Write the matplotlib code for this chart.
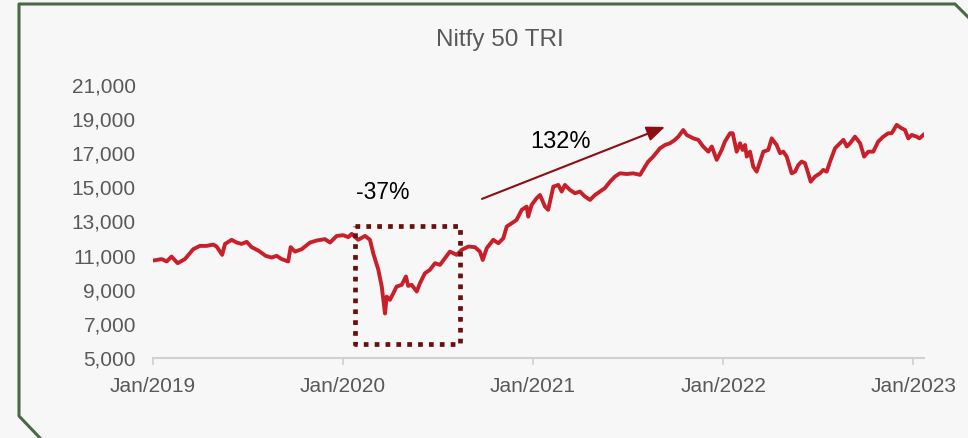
import numpy as np
import matplotlib.pyplot as plt
from matplotlib.lines import Line2D

# Nifty 50 TRI (x in years since Jan 2019)
years = [0.000, 0.048, 0.074, 0.100, 0.132, 0.170, 0.214, 0.249, 0.284, 0.319,
         0.337, 0.366, 0.381, 0.416, 0.442, 0.468, 0.495, 0.521, 0.556, 0.595,
         0.626, 0.652, 0.679, 0.713, 0.726, 0.749, 0.784, 0.828, 0.863, 0.906,
         0.933, 0.968, 1.003, 1.029, 1.047, 1.081, 1.117, 1.143, 1.160, 1.187,
         1.205, 1.222, 1.231, 1.248, 1.266, 1.283, 1.310, 1.332, 1.344, 1.362,
         1.389, 1.406, 1.432, 1.458, 1.485, 1.511, 1.537, 1.563, 1.599, 1.625,
         1.660, 1.695, 1.721, 1.736, 1.757, 1.791, 1.818, 1.844, 1.862, 1.888,
         1.914, 1.941, 1.967, 1.975, 1.993, 2.019, 2.037, 2.063, 2.080, 2.107,
         2.133, 2.151, 2.168, 2.194, 2.221, 2.247, 2.273, 2.300, 2.326, 2.352,
         2.378, 2.405, 2.431, 2.457, 2.493, 2.527, 2.563, 2.589, 2.606, 2.632,
         2.668, 2.694, 2.720, 2.746, 2.764, 2.790, 2.808, 2.843, 2.869, 2.895,
         2.922, 2.940, 2.966, 2.992, 3.009, 3.036, 3.050, 3.071, 3.089, 3.102,
         3.115, 3.124, 3.141, 3.158, 3.176, 3.194, 3.211, 3.237, 3.255, 3.281,
         3.299, 3.316, 3.334, 3.360, 3.378, 3.395, 3.413, 3.430, 3.447, 3.460,
         3.483, 3.509, 3.526, 3.544, 3.562, 3.588, 3.614, 3.632, 3.650, 3.667,
         3.693, 3.720, 3.741, 3.763, 3.789, 3.815, 3.842, 3.868, 3.886, 3.912,
         3.938, 3.956, 3.973, 3.991, 4.017, 4.032, 4.052]
tri = [10700, 10790, 10650, 10940, 10550, 10790, 11370, 11565, 11565, 11640,
       11525, 11040, 11680, 11920, 11760, 11680, 11800, 11490, 11290, 10980,
       10880, 10980, 10790, 10650, 11490, 11230, 11370, 11760, 11880, 11960,
       11760, 12150, 12190, 12075, 12270, 11920, 12150, 11920, 11140, 10160,
       9180, 7600, 8590, 8400, 8790, 9180, 9280, 9770, 9220, 9280,
       8890, 9380, 9960, 10160, 10550, 10450, 10840, 11230, 11040, 11330,
       11525, 11490, 11230, 10740, 11430, 11920, 11720, 12010, 12700, 12890,
       13090, 13680, 13870, 13280, 13970, 14360, 14550, 13870, 13680, 15040,
       15140, 14750, 15140, 14850, 14650, 14750, 14460, 14260, 14550, 14750,
       14950, 15330, 15630, 15820, 15780, 15820, 15730, 16210, 16510, 16800,
       17290, 17480, 17580, 17780, 17970, 18360, 18070, 17870, 17780, 17390,
       17090, 17390, 16610, 17190, 17680, 18170, 18170, 17090, 17580, 17190,
       17480, 16800, 17090, 16210, 15920, 16510, 17090, 17190, 17870, 17480,
       17000, 17090, 16800, 15820, 15920, 16310, 16510, 16410, 15820, 15330,
       15630, 15820, 16020, 15920, 16510, 17290, 17580, 17780, 17390, 17580,
       17970, 17580, 16800, 17090, 17090, 17680, 17970, 18170, 18170, 18660,
       18460, 18360, 17870, 18070, 17970, 17870, 18070]

yticks = [5000, 7000, 9000, 11000, 13000, 15000, 17000, 19000, 21000]
xticks = [0, 1, 2, 3, 4]
xlabels = ['Jan/2019', 'Jan/2020', 'Jan/2021', 'Jan/2022', 'Jan/2023']

grey = '#595959'
plt.rcParams['font.family'] = ['Liberation Sans', 'DejaVu Sans']

fig = plt.figure(figsize=(9.68, 4.38), dpi=100, facecolor='#F7F7F7')
ax = fig.add_axes([0.1576, 0.183, 0.797, 0.623])
ax.set_facecolor('none')

ax.plot(np.array(years), tri, color='#C8202A', linewidth=2.8, solid_joinstyle='round')

ax.set_xlim(0, 4.056)
ax.set_ylim(5000, 21000)
ax.set_yticks(yticks)
ax.set_yticklabels([f'{v:,}' for v in yticks])
ax.set_xticks(xticks)
ax.set_xticklabels(xlabels)
ax.tick_params(axis='y', length=0, pad=12, labelsize=15, labelcolor=grey)
ax.tick_params(axis='x', length=5, width=1.2, color='#D0D0D0', pad=9,
               labelsize=15, labelcolor=grey)
for s in ['top', 'right', 'left']:
    ax.spines[s].set_visible(False)
ax.spines['bottom'].set_color('#D0D0D0')
ax.spines['bottom'].set_linewidth(1.5)

fig.text(0.516, 0.908, 'Nitfy 50 TRI', ha='center', va='center', fontsize=17.5, color=grey)

# dotted box around the covid crash
bx = [1.064, 1.616, 1.616, 1.064, 1.064]
by = [12740, 12740, 5820, 5820, 12740]
ax.plot(bx, by, color='#6B0E0E', linewidth=3.4, linestyle=(0, (1, 1.3)),
        dash_capstyle='butt')
ax.text(1.212, 14670, '-37%', ha='center', va='center', fontsize=16.5, color='black')

ax.annotate('', xy=(2.694, 18540), xytext=(1.732, 14320),
            arrowprops=dict(arrowstyle='-|>,head_length=1.1,head_width=0.45',
                            color='#8B0E14', linewidth=1.5, shrinkA=0, shrinkB=0))
ax.text(2.143, 17660, '132%', ha='center', va='center', fontsize=17, color='black')

# frame around the figure
H, W = 438.0, 968.0
fx = [40 / W, 19 / W, 19 / W, 955 / W, 968 / W]
fy = [0.0, 1 - 416 / H, 1 - 4 / H, 1 - 4 / H, 1 - 17 / H]
fig.add_artist(Line2D(fx, fy, color='#4A6A46', linewidth=2.2, transform=fig.transFigure))

fig.savefig('out.png', dpi=100, facecolor=fig.get_facecolor())
